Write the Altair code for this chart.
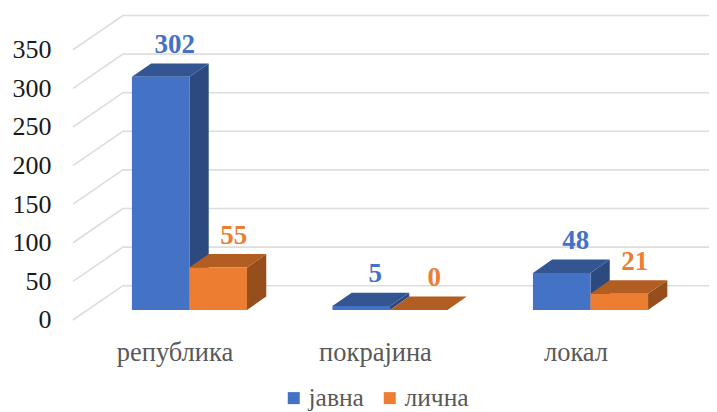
import altair as alt
import pandas as pd

categories = ["република", "покрајина", "локал"]
series_names = ["јавна", "лична"]
javna = [302, 5, 48]
licna = [55, 0, 21]
y_ticks = [0, 50, 100, 150, 200, 250, 300, 350]

BLUE, BLUE_TOP, BLUE_SIDE = "#4472C4", "#335693", "#2C4A80"
ORANGE, ORANGE_TOP, ORANGE_SIDE = "#ED7D31", "#B25E22", "#964F1C"
GRID = "#DDDDDD"
SERIF = "Liberation Serif"

BAR_W = 0.287
BAR_DX, BAR_DY = 0.096, 17.4
BASE = 12.95
WALL_X0, WALL_X1, WALL_X2 = -0.581, -0.332, 2.64
WALL_DY = 44.4

grid_rows = []
for t in y_ticks:
    grid_rows += [
        {"t": t, "x": WALL_X0, "y": t},
        {"t": t, "x": WALL_X1, "y": t + WALL_DY},
        {"t": t, "x": WALL_X2, "y": t + WALL_DY},
    ]
grid_df = pd.DataFrame(grid_rows)

front, side, top, labels = [], [], [], []
for k, (name, vals) in enumerate(zip(series_names, [javna, licna])):
    for i, (cat, v) in enumerate(zip(categories, vals)):
        x0 = i + (k - 1) * BAR_W
        x1 = x0 + BAR_W
        y1 = BASE + v
        key = f"{k}-{i}"
        front.append({"series": name, "x": x0, "x2": x1, "y": BASE, "y2": y1})
        side += [
            {"s": k, "key": key, "x": x1, "y": BASE, "y2": y1},
            {"s": k, "key": key, "x": x1 + BAR_DX, "y": BASE + BAR_DY, "y2": y1 + BAR_DY},
        ]
        top += [
            {"s": k, "key": key, "y": y1, "x": x0, "x2": x1},
            {"s": k, "key": key, "y": y1 + BAR_DY, "x": x0 + BAR_DX, "x2": x1 + BAR_DX},
        ]
        labels.append({"s": k, "x": (x0 + x1) / 2, "y": y1, "v": str(v)})

side_df, top_df, front_df, lab_df = map(pd.DataFrame, (side, top, front, labels))

x_scale = alt.Scale(domain=[-0.905, 2.5910], nice=False, zero=False)
y_scale = alt.Scale(domain=[-117.9, 404.1], nice=False, zero=False)
name_expr = "[" + ",".join(f"'{c}'" for c in categories) + "][datum.value]"

X = alt.X(
    "x:Q", scale=x_scale, title=None,
    axis=alt.Axis(values=[0, 1, 2], labelExpr=name_expr, domain=False, ticks=False, grid=False,
                  labelFont=SERIF, labelFontSize=26.5, labelColor="#595959", labelPadding=0,
                  labelOffset=-15, offset=-72, labelBaseline="top", labelFlush=False, labelOverlap=False),
)
Y = alt.Y(
    "y:Q", scale=y_scale, title=None,
    axis=alt.Axis(values=y_ticks, domain=False, ticks=False, grid=False,
                  labelFont=SERIF, labelFontSize=26, labelColor="#1A1A1A", labelPadding=0,
                  offset=-43, labelFlush=False, labelOverlap=False),
)

grid = alt.Chart(grid_df).mark_line(color=GRID, strokeWidth=1.6, clip=True).encode(x=X, y=Y, detail="t:N")


def side_layer(k, color):
    return alt.Chart(side_df[side_df.s == k]).mark_area(color=color, orient="vertical").encode(
        x=X, y=Y, y2="y2:Q", detail="key:N")


def top_layer(k, color):
    return alt.Chart(top_df[top_df.s == k]).mark_area(color=color, orient="horizontal").encode(
        x=X, x2="x2:Q", y=Y, detail="key:N")


front_layer = alt.Chart(front_df).mark_rect().encode(
    x=X, x2="x2:Q", y=Y, y2="y2:Q",
    color=alt.Color(
        "series:N",
        scale=alt.Scale(domain=series_names, range=[BLUE, ORANGE]),
        legend=alt.Legend(
            orient="none", legendX=273, legendY=377, direction="horizontal", title=None,
            symbolType="square", symbolSize=144, symbolStrokeWidth=0, symbolOpacity=1,
            labelFont=SERIF, labelFontSize=25.5, labelColor="#595959", columnPadding=13,
            labelOffset=2, padding=0,
        ),
    ),
)


def text_layer(k, color, dx):
    return alt.Chart(lab_df[lab_df.s == k]).mark_text(
        font=SERIF, fontSize=27, fontWeight="bold", color=color, dx=dx, dy=-24, baseline="alphabetic"
    ).encode(x=X, y=Y, text="v:N")


chart = alt.layer(
    grid,
    side_layer(0, BLUE_SIDE), top_layer(0, BLUE_TOP),
    side_layer(1, ORANGE_SIDE), top_layer(1, ORANGE_TOP),
    front_layer,
    text_layer(0, BLUE, 14), text_layer(1, ORANGE, 15.5),
).properties(
    width=701, height=403, padding=0, autosize=alt.AutoSizeParams(type="none"),
).configure_view(stroke=None)

chart.save("out.html", embed_options={"renderer": "svg", "actions": False})
